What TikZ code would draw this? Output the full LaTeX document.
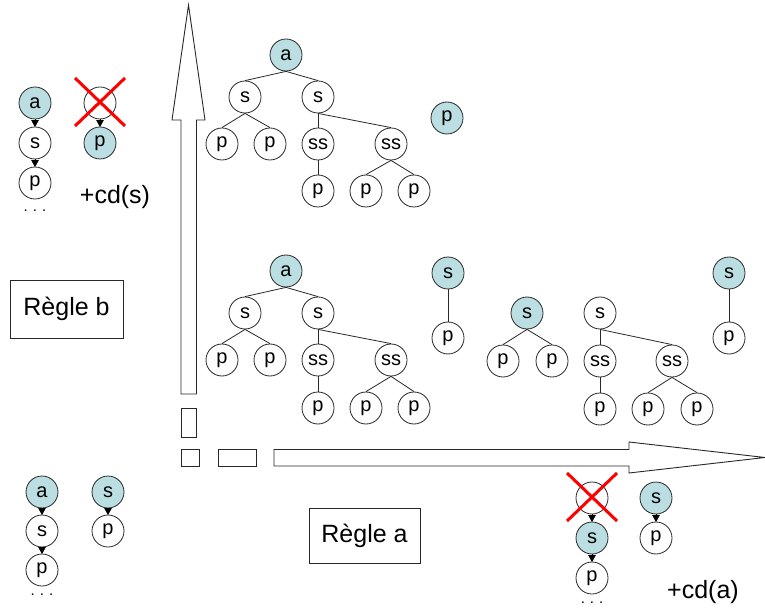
\documentclass[tikz,border=0pt]{standalone}
\usepackage{fontspec}
\setmainfont{Liberation Sans}
\usetikzlibrary{arrows.meta}
\definecolor{nodeteal}{RGB}{186,222,225}
\definecolor{outline}{RGB}{40,40,40}
\tikzset{
  vtx/.style={circle, draw=outline, line width=0.8pt, fill=white, minimum size=32pt,
    inner sep=0pt, font=\fontsize{20}{22}\selectfont},
  hot/.style={vtx, fill=nodeteal},
  tedge/.style={draw=outline, line width=0.8pt},
  chain/.style={draw=black, line width=0.8pt, -{Triangle[length=7pt,width=7.5pt]}, shorten >=-0.5pt},
  lbl/.style={font=\fontsize{25}{28}\selectfont, inner sep=0pt},
  dots/.style={font=\fontsize{15}{18}\selectfont, inner sep=0pt},
  rulebox/.style={draw=outline, line width=0.8pt, inner sep=0pt, font=\fontsize{25}{28}\selectfont},
  blockarrow/.style={draw=outline, line width=0.9pt, fill=white, line join=miter},
  cross/.style={draw=red, line width=3pt},
}
\begin{document}
\begin{tikzpicture}[x=1pt, y=-1pt]
\useasboundingbox (0,0) rectangle (765,609);

% block arrows and bars
\draw[blockarrow] (181,394) -- (181,120) -- (172,120) -- (188.5,5) -- (205,120) -- (196.5,120) -- (196.5,394) -- cycle;
\draw[blockarrow] (181,408) rectangle (196.5,437);
\draw[blockarrow] (181,449.5) rectangle (199,466);
\draw[blockarrow] (218,449.5) rectangle (256,466);
\draw[blockarrow] (274,449.5) -- (629,449.5) -- (629,442) -- (765,457.5) -- (629,473) -- (629,466) -- (274,466) -- cycle;

% upper tree
\node[hot] (ta) at (286,55) {a};
\node[vtx] (ts1) at (245,97) {s};
\node[vtx] (ts2) at (318,97) {s};
\node[vtx] (tp1) at (222,144) {p};
\node[vtx] (tp2) at (270,144) {p};
\node[vtx] (tss1) at (318,144) {ss};
\node[vtx] (tss2) at (391,144) {ss};
\node[vtx] (tp3) at (318,191) {p};
\node[vtx] (tp4) at (366,191) {p};
\node[vtx] (tp5) at (414,191) {p};
\node[hot] (tq) at (447,118) {p};
\foreach \u/\v in {ta/ts1, ta/ts2, ts1/tp1, ts1/tp2, ts2/tss1, ts2/tss2, tss1/tp3, tss2/tp4, tss2/tp5}
  \draw[tedge] (\u.south) -- (\v.north);

% middle tree
\node[hot] (ma) at (286,271) {a};
\node[vtx] (ms1) at (245,313) {s};
\node[vtx] (ms2) at (318,313) {s};
\node[vtx] (mp1) at (222,360) {p};
\node[vtx] (mp2) at (270,360) {p};
\node[vtx] (mss1) at (318,360) {ss};
\node[vtx] (mss2) at (391,360) {ss};
\node[vtx] (mp3) at (318,408) {p};
\node[vtx] (mp4) at (366,408) {p};
\node[vtx] (mp5) at (414,408) {p};
\foreach \u/\v in {ma/ms1, ma/ms2, ms1/mp1, ms1/mp2, ms2/mss1, ms2/mss2, mss1/mp3, mss2/mp4, mss2/mp5}
  \draw[tedge] (\u.south) -- (\v.north);

% pieces beside the middle tree
\node[hot] (ua) at (448,273) {s};
\node[vtx] (ub) at (448,338) {p};
\draw[tedge] (ua) -- (ub);

\node[hot] (va) at (527,313) {s};
\node[vtx] (vb) at (503,361) {p};
\node[vtx] (vc) at (552,361) {p};
\draw[tedge] (va.south) -- (vb.north);
\draw[tedge] (va.south) -- (vc.north);

\node[vtx] (wa) at (600,313) {s};
\node[vtx] (wss1) at (600,361) {ss};
\node[vtx] (wss2) at (672,361) {ss};
\node[vtx] (wp1) at (600,409) {p};
\node[vtx] (wp2) at (648,409) {p};
\node[vtx] (wp3) at (697,409) {p};
\foreach \u/\v in {wa/wss1, wa/wss2, wss1/wp1, wss2/wp2, wss2/wp3}
  \draw[tedge] (\u.south) -- (\v.north);

\node[hot] (xa) at (729,273) {s};
\node[vtx] (xb) at (729,338) {p};
\draw[tedge] (xa) -- (xb);

% top-left chains
\node[hot] (la) at (35,103) {a};
\node[vtx] (ls) at (35,143) {s};
\node[vtx] (lp) at (35,183) {p};
\node[dots] (ld) at (35,211) {.\,\,.\,\,.};
\draw[chain] (la) -- (ls);
\draw[chain] (ls) -- (lp);

\node[vtx] (kx) at (100,103) {};
\node[hot] (kp) at (100,143) {p};
\draw[chain] (kx) -- (kp);
\draw[cross] (75,78) -- (125,126);
\draw[cross] (125,78) -- (75,126);
\node[lbl] (cds) at (115,197) {+cd(s)};

% rule boxes
\node[rulebox, minimum width=113pt, minimum height=58pt] (rb) at (66.5,309) {Règle b};
\node[rulebox, minimum width=111pt, minimum height=55pt] (ra) at (364.5,535.5) {Règle a};

% bottom-left chains
\node[hot] (ba) at (42,492) {a};
\node[vtx] (bs) at (42,531) {s};
\node[vtx] (bp) at (42,570) {p};
\node[dots] (bd) at (42,595) {.\,\,.\,\,.};
\draw[chain] (ba) -- (bs);
\draw[chain] (bs) -- (bp);

\node[hot] (cs) at (108,492) {s};
\node[vtx] (cp) at (108,531) {p};
\draw[chain] (cs) -- (cp);

% bottom-right chains
\node[vtx] (rx) at (592,498) {};
\node[hot] (rs) at (592,538) {s};
\node[vtx] (rp) at (592,578) {p};
\node[dots] (rd) at (592,603) {.\,\,.\,\,.};
\draw[chain] (rx) -- (rs);
\draw[chain] (rs) -- (rp);
\draw[cross] (567,473) -- (617,521);
\draw[cross] (617,473) -- (567,521);

\node[hot] (qs) at (656,498) {s};
\node[vtx] (qp) at (656,538) {p};
\draw[chain] (qs) -- (qp);
\node[lbl] (cda) at (703,592) {+cd(a)};
\end{tikzpicture}
\end{document}
